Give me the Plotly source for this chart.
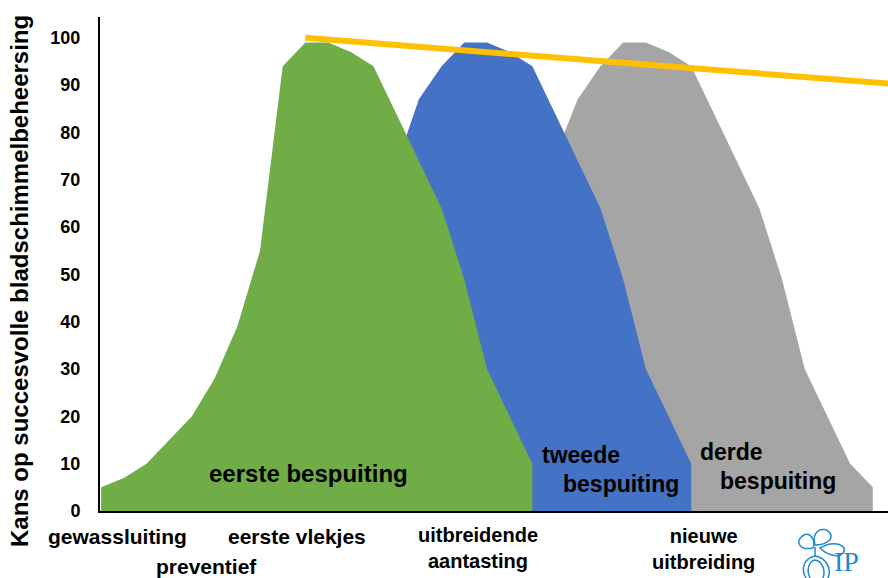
import plotly.graph_objects as go

# category positions along the season (index 0..34)
green_x = list(range(0, 20))
green_y = [5, 7, 10, 15, 20, 28, 39, 55, 94, 99, 99, 97, 94, 84, 74, 64, 49, 30, 20, 10]

blue_x = list(range(12, 27))
blue_y = [50, 73, 87, 94, 99, 99, 97, 94, 84, 74, 64, 49, 30, 20, 10]

grey_x = list(range(19, 35))
grey_y = [50, 75, 87, 94, 99, 99, 97, 94, 84, 74, 64, 49, 30, 20, 10, 5]

trend_x = [9, 35]
trend_y = [100, 90.2]

y_ticks = [0, 10, 20, 30, 40, 50, 60, 70, 80, 90, 100]

W, H = 888, 578
L, R, T, B = 100, 0, 17, 67
PW, PH = W - L - R, H - T - B


def px(x, y):
    # pixel position -> paper coordinates
    return (x - L) / PW, (H - B - y) / PH


FONT = "Liberation Sans, Arial, sans-serif"

fig = go.Figure()
fig.add_trace(go.Scatter(x=grey_x, y=grey_y, fill="tozeroy", mode="lines",
                         line=dict(width=0, color="#A5A5A5"), fillcolor="#A5A5A5"))
fig.add_trace(go.Scatter(x=blue_x, y=blue_y, fill="tozeroy", mode="lines",
                         line=dict(width=0, color="#4472C4"), fillcolor="#4472C4"))
fig.add_trace(go.Scatter(x=green_x, y=green_y, fill="tozeroy", mode="lines",
                         line=dict(width=0, color="#70AD47"), fillcolor="#70AD47"))
fig.add_trace(go.Scatter(x=trend_x, y=trend_y, mode="lines",
                         line=dict(width=6, color="#FFC000")))

annots = []


def label(text, x, y, size, xanchor="center", color="black", family=FONT, weight="bold",
          yanchor="middle"):
    ax, ay = px(x, y)
    annots.append(dict(text=text, x=ax, y=ay, xref="paper", yref="paper",
                       xanchor=xanchor, yanchor=yanchor, showarrow=False,
                       font=dict(family=family, size=size, color=color, weight=weight)))


# y axis title
ax, ay = px(20, 281)
annots.append(dict(text="Kans op succesvolle bladschimmelbeheersing", x=ax, y=ay,
                   xref="paper", yref="paper", textangle=-90, showarrow=False,
                   xanchor="center", yanchor="middle",
                   font=dict(family=FONT, size=24, color="black", weight="bold")))

# phase labels under the axis
label("gewassluiting", 117, 536, 21)
label("preventief", 206, 566, 21)
label("eerste vlekjes", 297, 536, 21)
label("uitbreidende<br>aantasting", 478, 522, 20, yanchor="top")
label("nieuwe<br>uitbreiding", 703, 523, 20, yanchor="top")

# labels inside the areas
label("eerste bespuiting", 308, 473, 24)
label("tweede", 540, 455, 23, xanchor="left")
label("bespuiting", 561, 484, 23, xanchor="left")
label("derde", 698, 452, 23, xanchor="left")
label("bespuiting", 718, 481, 23, xanchor="left")

# logo
label("IP", 832, 561, 28, xanchor="left", color="#1E88D2",
      family="Liberation Serif, serif", weight="normal")

logo_paths = [
    "M 813 548 C 799 551 794 540 804 535 C 811 532 816 541 813 548 Z",
    "M 815 545 C 811 531 824 525 830 533 C 834 539 826 545 815 545 Z",
    "M 820 548 C 834 540 849 545 843 553 C 838 559 826 554 820 548 Z",
    "M 806 578 C 800 568 805 558 815 556 C 826 558 832 568 828 578",
    "M 810 578 C 806 570 809 561 815 560 C 822 561 826 570 823 578",
    "M 815 547 L 815 556",
]
shapes = []
for p in logo_paths:
    parts = p.split()
    out = []
    i = 0
    while i < len(parts):
        tok = parts[i]
        if tok.isalpha():
            out.append(tok)
            i += 1
        else:
            x, y = px(float(parts[i]), float(parts[i + 1]))
            out.append(f"{x:.4f},{y:.4f}")
            i += 2
    shapes.append(dict(type="path", path=" ".join(out), xref="paper", yref="paper",
                       line=dict(color="#1E88D2", width=1.5)))

fig.update_layout(
    width=W, height=H,
    margin=dict(l=L, r=R, t=T, b=B),
    plot_bgcolor="white", paper_bgcolor="white",
    showlegend=False,
    annotations=annots,
    shapes=shapes,
    xaxis=dict(range=[-0.05, 34.67], showgrid=False, zeroline=False,
               showticklabels=False, ticks="",
               showline=True, linecolor="black", linewidth=2),
    yaxis=dict(range=[0, 104.4], showgrid=False, zeroline=False,
               tickvals=y_ticks, ticks="", ticklabelstandoff=14,
               tickfont=dict(family=FONT, size=18, color="black", weight="bold"),
               showline=True, linecolor="black", linewidth=2),
)

fig.write_html("out.html", config={"displayModeBar": False},
               post_script="document.body.style.margin='0';")
